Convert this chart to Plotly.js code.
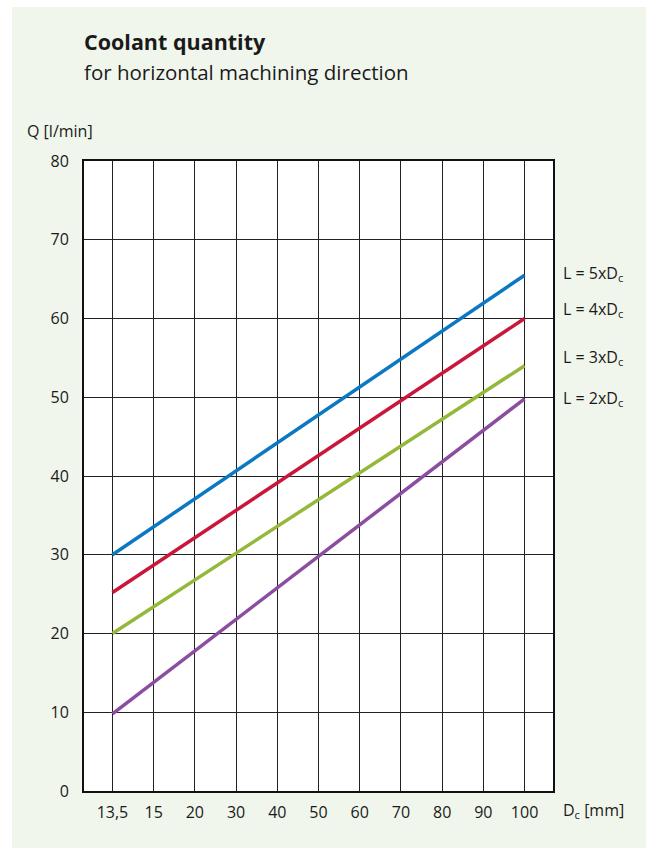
<!DOCTYPE html>
<html>
<head>
<meta charset="utf-8">
<script src="https://cdn.plot.ly/plotly-3.0.1.min.js"></script>
<style>
  html, body { margin: 0; padding: 0; background: #ffffff; }
  #panel { position: absolute; left: 12px; top: 7px; width: 634px; height: 841px; background: #f1f6ec; }
  #chart { position: absolute; left: 0; top: 0; width: 652px; height: 848px; }
</style>
</head>
<body>
<div id="panel"></div>
<div id="chart"></div>
<script>
// Category labels of the x axis (tool diameter Dc in mm), equally spaced
const dcLabels = ["13,5", "15", "20", "30", "40", "50", "60", "70", "80", "90", "100"];
// Line endpoints (Dc category)
const lineDc = ["13,5", "100"];
// Coolant quantity Q [l/min] at the endpoints
const q5xDc = [30, 65.5];
const q4xDc = [25.2, 60];
const q3xDc = [20, 54];
const q2xDc = [9.8, 49.8];
const seriesNames = ["L = 5xD<sub>c</sub>", "L = 4xD<sub>c</sub>", "L = 3xD<sub>c</sub>", "L = 2xD<sub>c</sub>"];
const yTicks = [0, 10, 20, 30, 40, 50, 60, 70, 80];

const FONT = "Open Sans";
const TXT = "#1a1a1a";
const colors = ["#0a78c2", "#c8173a", "#96b83a", "#8a4d9f"];
const seriesVals = [q5xDc, q4xDc, q3xDc, q2xDc];
const idx = l => dcLabels.indexOf(l);

const traces = seriesVals.map((v, i) => ({
  type: "scatter",
  mode: "lines",
  x: lineDc.map(idx),
  y: v,
  name: seriesNames[i],
  line: { color: colors[i], width: 3.5 },
  hoverinfo: "skip",
  showlegend: false
}));

const M = { l: 84, r: 99, t: 161, b: 57 };
const H = 848;
const plotH = H - M.t - M.b;
const pyPaper = px => (H - M.b - px) / plotH;   // pixel row -> paper y

const labelY = [65.7, 61.2, 55, 49.8];
const annotations = seriesNames.map((n, i) => ({
  xref: "paper", yref: "y", x: 1, y: labelY[i],
  xanchor: "left", yanchor: "middle", xshift: 8,
  text: n, showarrow: false,
  font: { family: FONT, size: 16, color: TXT }
}));
annotations.push({
  xref: "paper", yref: "paper", x: 0, y: pyPaper(131), xanchor: "left", yanchor: "middle",
  xshift: 25 - M.l,
  text: "Q [l/min]", showarrow: false,
  font: { family: FONT, size: 16, color: TXT }
});
annotations.push({
  xref: "paper", yref: "paper", x: 1, y: 0, xanchor: "left", yanchor: "middle",
  xshift: 8, yshift: -19,
  text: "D<sub>c</sub> [mm]", showarrow: false,
  font: { family: FONT, size: 16, color: TXT }
});
annotations.push({
  xref: "paper", yref: "paper", x: 0, y: pyPaper(72), xanchor: "left", yanchor: "middle",
  xshift: -2,
  text: "for horizontal machining direction", showarrow: false,
  font: { family: FONT, size: 20.5, color: TXT }
});

const layout = {
  width: 652, height: 848,
  paper_bgcolor: "rgba(0,0,0,0)",
  plot_bgcolor: "#ffffff",
  margin: M,
  title: {
    text: "<b>Coolant quantity</b>",
    xref: "paper", x: 0, xanchor: "left",
    yref: "container", y: 1 - 42 / H, yanchor: "middle",
    font: { family: FONT, size: 21.5, color: TXT }
  },
  xaxis: {
    range: [-0.69, 10.69],
    tickmode: "array",
    tickvals: dcLabels.map((_, i) => i),
    ticktext: dcLabels,
    showgrid: true, gridcolor: "#222222", gridwidth: 1,
    zeroline: false,
    showline: true, linecolor: "#111111", linewidth: 2, mirror: true,
    ticks: "", ticklabelstandoff: 6,
    tickfont: { family: FONT, size: 16, color: TXT },
    fixedrange: true
  },
  yaxis: {
    range: [0, 80],
    tickmode: "array",
    tickvals: yTicks,
    showgrid: true, gridcolor: "#222222", gridwidth: 1,
    zeroline: false,
    showline: true, linecolor: "#111111", linewidth: 2, mirror: true,
    ticks: "", ticklabelstandoff: 10,
    tickfont: { family: FONT, size: 16, color: TXT },
    fixedrange: true
  },
  annotations: annotations,
  showlegend: false
};

Plotly.newPlot("chart", traces, layout, { displayModeBar: false, staticPlot: true });
</script>
</body>
</html>
